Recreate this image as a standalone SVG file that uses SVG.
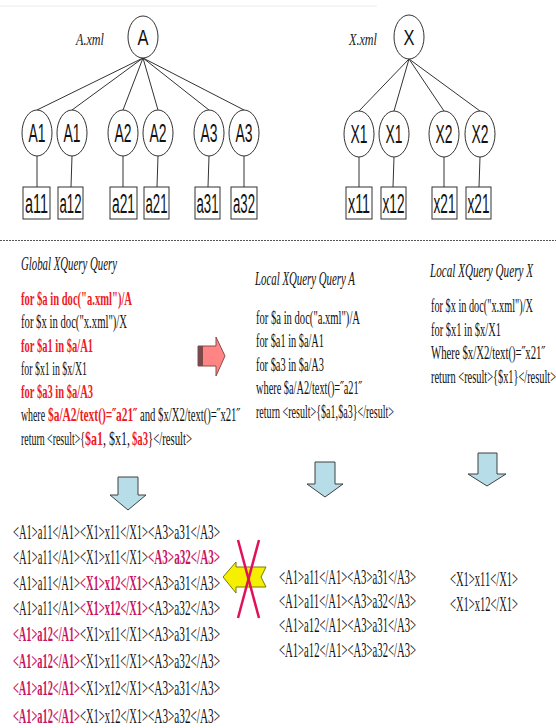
<svg xmlns="http://www.w3.org/2000/svg" width="556" height="728" viewBox="0 0 556 728">
<style>
.bg{fill:#fff}
.nd{fill:#fff;stroke:#333;stroke-width:1}
.lf{fill:#fff;stroke:#333;stroke-width:1}
.ed{stroke:#333;stroke-width:1;fill:none}
.nl{font-family:"Liberation Sans",Arial,sans-serif;font-size:25px;fill:#111;text-anchor:middle}
.rl{font-family:"Liberation Sans",Arial,sans-serif;font-size:22px;fill:#111;text-anchor:middle}
.ll{font-family:"Liberation Sans",Arial,sans-serif;font-size:27px;fill:#111;text-anchor:middle}
.doc{font-family:"Liberation Serif","Times New Roman",serif;font-style:italic;font-size:17px;fill:#222}
.ttl{font-family:"Liberation Serif","Times New Roman",serif;font-style:italic;font-size:19px;fill:#111}
.q{font-family:"Liberation Serif","Times New Roman",serif;font-size:19px;fill:#111}
.qr{font-family:"Liberation Serif","Times New Roman",serif;font-size:19px;fill:#ee1c25;font-weight:bold}
.r{font-family:"Liberation Serif","Times New Roman",serif;font-size:22px;fill:#111}
.rm{font-family:"Liberation Serif","Times New Roman",serif;font-size:22px;fill:#c8145f;font-weight:bold}
.ra{font-family:"Liberation Serif","Times New Roman",serif;font-size:21px;fill:#111}
.da{fill:#b7dde8;stroke:#404040;stroke-width:1}
</style>
<rect class="bg" x="0" y="0" width="556" height="728"/>
<line x1="0" y1="6" x2="377" y2="6" stroke="#ececec" stroke-width="1"/>

<g id="connectors">
  <line class="ed" x1="143" y1="58" x2="37" y2="110"/>
  <line class="ed" x1="143" y1="58" x2="72" y2="110"/>
  <line class="ed" x1="143" y1="58" x2="123" y2="110"/>
  <line class="ed" x1="143" y1="58" x2="158" y2="110"/>
  <line class="ed" x1="143" y1="58" x2="209" y2="110"/>
  <line class="ed" x1="143" y1="58" x2="244" y2="110"/>
  <line class="ed" x1="37" y1="156" x2="37" y2="187"/>
  <line class="ed" x1="72" y1="156" x2="71" y2="187"/>
  <line class="ed" x1="123" y1="156" x2="123" y2="187"/>
  <line class="ed" x1="158" y1="156" x2="157" y2="187"/>
  <line class="ed" x1="209" y1="156" x2="208" y2="187"/>
  <line class="ed" x1="244" y1="156" x2="244" y2="187"/>
  <line class="ed" x1="409" y1="59" x2="359" y2="111"/>
  <line class="ed" x1="409" y1="59" x2="394" y2="111"/>
  <line class="ed" x1="409" y1="59" x2="444" y2="111"/>
  <line class="ed" x1="409" y1="59" x2="480" y2="111"/>
  <line class="ed" x1="359" y1="157" x2="359" y2="187"/>
  <line class="ed" x1="394" y1="157" x2="393" y2="187"/>
  <line class="ed" x1="444" y1="157" x2="444" y2="187"/>
  <line class="ed" x1="480" y1="157" x2="479" y2="187"/>
</g>

<text class="doc" x="76" y="45" textLength="28" lengthAdjust="spacingAndGlyphs">A.xml</text>
<text class="doc" x="349" y="45" textLength="28" lengthAdjust="spacingAndGlyphs">X.xml</text>

<g id="nA"><ellipse class="nd" cx="143" cy="37" rx="15" ry="21"/><text class="rl" x="143" y="45" textLength="11" lengthAdjust="spacingAndGlyphs">A</text></g>
<g id="nA1a"><ellipse class="nd" cx="37" cy="133" rx="15" ry="23"/><text class="nl" x="37" y="142" textLength="17" lengthAdjust="spacingAndGlyphs">A1</text></g>
<g id="nA1b"><ellipse class="nd" cx="72" cy="133" rx="15" ry="23"/><text class="nl" x="72" y="142" textLength="17" lengthAdjust="spacingAndGlyphs">A1</text></g>
<g id="nA2a"><ellipse class="nd" cx="123" cy="133" rx="15" ry="23"/><text class="nl" x="123" y="142" textLength="17" lengthAdjust="spacingAndGlyphs">A2</text></g>
<g id="nA2b"><ellipse class="nd" cx="158" cy="133" rx="15" ry="23"/><text class="nl" x="158" y="142" textLength="17" lengthAdjust="spacingAndGlyphs">A2</text></g>
<g id="nA3a"><ellipse class="nd" cx="209" cy="133" rx="15" ry="23"/><text class="nl" x="209" y="142" textLength="17" lengthAdjust="spacingAndGlyphs">A3</text></g>
<g id="nA3b"><ellipse class="nd" cx="244" cy="133" rx="15" ry="23"/><text class="nl" x="244" y="142" textLength="17" lengthAdjust="spacingAndGlyphs">A3</text></g>

<g id="la11"><rect class="lf" x="23" y="187" width="27" height="32"/><text class="ll" x="36.5" y="213" textLength="23" lengthAdjust="spacingAndGlyphs">a11</text></g>
<g id="la12"><rect class="lf" x="58" y="187" width="25" height="32"/><text class="ll" x="70.5" y="213" textLength="22" lengthAdjust="spacingAndGlyphs">a12</text></g>
<g id="la21a"><rect class="lf" x="110" y="187" width="27" height="32"/><text class="ll" x="123.5" y="213" textLength="23" lengthAdjust="spacingAndGlyphs">a21</text></g>
<g id="la21b"><rect class="lf" x="144" y="187" width="25" height="32"/><text class="ll" x="156.5" y="213" textLength="22" lengthAdjust="spacingAndGlyphs">a21</text></g>
<g id="la31"><rect class="lf" x="195" y="187" width="25" height="32"/><text class="ll" x="207.5" y="213" textLength="22" lengthAdjust="spacingAndGlyphs">a31</text></g>
<g id="la32"><rect class="lf" x="231" y="187" width="26" height="32"/><text class="ll" x="244" y="213" textLength="22" lengthAdjust="spacingAndGlyphs">a32</text></g>

<g id="nX"><ellipse class="nd" cx="409" cy="37" rx="15" ry="22"/><text class="rl" x="409" y="45" textLength="11" lengthAdjust="spacingAndGlyphs">X</text></g>
<g id="nX1a"><ellipse class="nd" cx="359" cy="134" rx="15" ry="23"/><text class="nl" x="359" y="143" textLength="17" lengthAdjust="spacingAndGlyphs">X1</text></g>
<g id="nX1b"><ellipse class="nd" cx="394" cy="134" rx="15" ry="23"/><text class="nl" x="394" y="143" textLength="17" lengthAdjust="spacingAndGlyphs">X1</text></g>
<g id="nX2a"><ellipse class="nd" cx="444" cy="134" rx="15" ry="23"/><text class="nl" x="444" y="143" textLength="17" lengthAdjust="spacingAndGlyphs">X2</text></g>
<g id="nX2b"><ellipse class="nd" cx="480" cy="134" rx="15" ry="23"/><text class="nl" x="480" y="143" textLength="17" lengthAdjust="spacingAndGlyphs">X2</text></g>

<g id="lx11"><rect class="lf" x="346" y="187" width="26" height="32"/><text class="ll" x="359" y="213" textLength="22" lengthAdjust="spacingAndGlyphs">x11</text></g>
<g id="lx12"><rect class="lf" x="381" y="187" width="25" height="32"/><text class="ll" x="393.5" y="213" textLength="22" lengthAdjust="spacingAndGlyphs">x12</text></g>
<g id="lx21a"><rect class="lf" x="432" y="187" width="25" height="32"/><text class="ll" x="444.5" y="213" textLength="22" lengthAdjust="spacingAndGlyphs">x21</text></g>
<g id="lx21b"><rect class="lf" x="466" y="187" width="25" height="32"/><text class="ll" x="478.5" y="213" textLength="22" lengthAdjust="spacingAndGlyphs">x21</text></g>

<line x1="0" y1="240.5" x2="556" y2="240.5" stroke="#555" stroke-width="1" stroke-dasharray="2,1"/>

<g id="globalQuery">
  <text class="ttl" x="21" y="270" textLength="96" lengthAdjust="spacingAndGlyphs">Global XQuery Query</text>
  <text class="qr" x="21" y="305" textLength="111" lengthAdjust="spacingAndGlyphs">for $a in doc("a.xml")/A</text>
  <text class="q" x="21" y="328" textLength="106" lengthAdjust="spacingAndGlyphs">for $x in doc("x.xml")/X</text>
  <text class="qr" x="21" y="352" textLength="72" lengthAdjust="spacingAndGlyphs">for $a1 in $a/A1</text>
  <text class="q" x="21" y="375" textLength="66" lengthAdjust="spacingAndGlyphs">for $x1 in $x/X1</text>
  <text class="qr" x="21" y="398" textLength="72" lengthAdjust="spacingAndGlyphs">for $a3 in $a/A3</text>
  <text class="q" x="21" y="421" textLength="24" lengthAdjust="spacingAndGlyphs">where</text>
  <text class="qr" x="48" y="421" textLength="89" lengthAdjust="spacingAndGlyphs">$a/A2/text()=˝a21˝</text>
  <text class="q" x="140" y="421" textLength="100" lengthAdjust="spacingAndGlyphs">and $x/X2/text()=˝x21˝</text>
  <text class="q" x="21" y="445" textLength="64" lengthAdjust="spacingAndGlyphs">return &lt;result&gt;{</text>
  <text class="qr" x="85" y="445" textLength="18" lengthAdjust="spacingAndGlyphs">$a1</text>
  <text class="q" x="103" y="445" textLength="27" lengthAdjust="spacingAndGlyphs">, $x1,</text>
  <text class="qr" x="132" y="445" textLength="16" lengthAdjust="spacingAndGlyphs">$a3</text>
  <text class="q" x="148" y="445" textLength="44" lengthAdjust="spacingAndGlyphs">}&lt;/result&gt;</text>
</g>

<g id="localQueryA">
  <text class="ttl" x="255" y="285" textLength="100" lengthAdjust="spacingAndGlyphs">Local XQuery Query A</text>
  <text class="q" x="256" y="324" textLength="104" lengthAdjust="spacingAndGlyphs">for $a in doc("a.xml")/A</text>
  <text class="q" x="256" y="347" textLength="68" lengthAdjust="spacingAndGlyphs">for $a1 in $a/A1</text>
  <text class="q" x="256" y="371" textLength="68" lengthAdjust="spacingAndGlyphs">for $a3 in $a/A3</text>
  <text class="q" x="256" y="394" textLength="106" lengthAdjust="spacingAndGlyphs">where $a/A2/text()=˝a21˝</text>
  <text class="q" x="256" y="418" textLength="138" lengthAdjust="spacingAndGlyphs">return &lt;result&gt;{$a1,$a3}&lt;/result&gt;</text>
</g>

<g id="localQueryX">
  <text class="ttl" x="430" y="277" textLength="103" lengthAdjust="spacingAndGlyphs">Local XQuery Query X</text>
  <text class="q" x="431" y="312" textLength="102" lengthAdjust="spacingAndGlyphs">for $x in doc("x.xml")/X</text>
  <text class="q" x="431" y="336" textLength="70" lengthAdjust="spacingAndGlyphs">for $x1 in $x/X1</text>
  <text class="q" x="431" y="359" textLength="114" lengthAdjust="spacingAndGlyphs">Where $x/X2/text()=˝x21˝</text>
  <text class="q" x="431" y="383" textLength="125" lengthAdjust="spacingAndGlyphs">return &lt;result&gt;{$x1}&lt;/result&gt;</text>
</g>

<g id="pinkArrow">
  <polygon points="198,346 216,346 216,337 225,356 216,376 216,366 198,366" fill="#ff8585" stroke="#8b4a4a" stroke-width="1"/>
  <rect x="198" y="346" width="5" height="20" fill="#7a4a4a"/>
</g>

<g id="downArrows">
  <polygon class="da" points="118,477 138,477 138,495 146,495 128,510 110,495 118,495"/>
  <polygon class="da" points="315,462 335,462 335,484 343,484 325,497 307,484 315,484"/>
  <polygon class="da" points="478,453 497,453 497,474 506,474 487,486 468,474 478,474"/>
</g>

<g id="globalResults">
  <text class="r" x="13" y="539" textLength="67" lengthAdjust="spacingAndGlyphs">&lt;A1&gt;a11&lt;/A1&gt;</text>
  <text class="r" x="80" y="539" textLength="68" lengthAdjust="spacingAndGlyphs">&lt;X1&gt;x11&lt;/X1&gt;</text>
  <text class="r" x="148" y="539" textLength="72" lengthAdjust="spacingAndGlyphs">&lt;A3&gt;a31&lt;/A3&gt;</text>

  <text class="r" x="13" y="564" textLength="67" lengthAdjust="spacingAndGlyphs">&lt;A1&gt;a11&lt;/A1&gt;</text>
  <text class="r" x="80" y="564" textLength="68" lengthAdjust="spacingAndGlyphs">&lt;X1&gt;x11&lt;/X1&gt;</text>
  <text class="rm" x="148" y="564" textLength="72" lengthAdjust="spacingAndGlyphs">&lt;A3&gt;a32&lt;/A3&gt;</text>

  <text class="r" x="13" y="590" textLength="67" lengthAdjust="spacingAndGlyphs">&lt;A1&gt;a11&lt;/A1&gt;</text>
  <text class="rm" x="80" y="590" textLength="68" lengthAdjust="spacingAndGlyphs">&lt;X1&gt;x12&lt;/X1&gt;</text>
  <text class="r" x="148" y="590" textLength="72" lengthAdjust="spacingAndGlyphs">&lt;A3&gt;a31&lt;/A3&gt;</text>

  <text class="r" x="13" y="615" textLength="67" lengthAdjust="spacingAndGlyphs">&lt;A1&gt;a11&lt;/A1&gt;</text>
  <text class="rm" x="80" y="615" textLength="68" lengthAdjust="spacingAndGlyphs">&lt;X1&gt;x12&lt;/X1&gt;</text>
  <text class="r" x="148" y="615" textLength="72" lengthAdjust="spacingAndGlyphs">&lt;A3&gt;a32&lt;/A3&gt;</text>

  <text class="rm" x="13" y="641" textLength="67" lengthAdjust="spacingAndGlyphs">&lt;A1&gt;a12&lt;/A1&gt;</text>
  <text class="r" x="80" y="641" textLength="68" lengthAdjust="spacingAndGlyphs">&lt;X1&gt;x11&lt;/X1&gt;</text>
  <text class="r" x="148" y="641" textLength="72" lengthAdjust="spacingAndGlyphs">&lt;A3&gt;a31&lt;/A3&gt;</text>

  <text class="rm" x="13" y="668" textLength="67" lengthAdjust="spacingAndGlyphs">&lt;A1&gt;a12&lt;/A1&gt;</text>
  <text class="r" x="80" y="668" textLength="68" lengthAdjust="spacingAndGlyphs">&lt;X1&gt;x11&lt;/X1&gt;</text>
  <text class="r" x="148" y="668" textLength="72" lengthAdjust="spacingAndGlyphs">&lt;A3&gt;a32&lt;/A3&gt;</text>

  <text class="rm" x="13" y="695" textLength="67" lengthAdjust="spacingAndGlyphs">&lt;A1&gt;a12&lt;/A1&gt;</text>
  <text class="r" x="80" y="695" textLength="68" lengthAdjust="spacingAndGlyphs">&lt;X1&gt;x12&lt;/X1&gt;</text>
  <text class="r" x="148" y="695" textLength="72" lengthAdjust="spacingAndGlyphs">&lt;A3&gt;a31&lt;/A3&gt;</text>

  <text class="rm" x="13" y="723" textLength="67" lengthAdjust="spacingAndGlyphs">&lt;A1&gt;a12&lt;/A1&gt;</text>
  <text class="r" x="80" y="723" textLength="68" lengthAdjust="spacingAndGlyphs">&lt;X1&gt;x12&lt;/X1&gt;</text>
  <text class="r" x="148" y="723" textLength="72" lengthAdjust="spacingAndGlyphs">&lt;A3&gt;a32&lt;/A3&gt;</text>
</g>

<g id="yellowArrow">
  <polygon points="223,577 236,562 236,567 266,567 261,577 266,587 236,587 236,593" fill="#f5f000" stroke="#7a7a00" stroke-width="1"/>
  <line x1="238" y1="540" x2="259" y2="618" stroke="#e0105a" stroke-width="2.5"/>
  <line x1="259" y1="540" x2="238" y2="618" stroke="#e0105a" stroke-width="2.5"/>
</g>

<g id="localResultsA">
  <text class="ra" x="279" y="584" textLength="137" lengthAdjust="spacingAndGlyphs">&lt;A1&gt;a11&lt;/A1&gt;&lt;A3&gt;a31&lt;/A3&gt;</text>
  <text class="ra" x="279" y="608" textLength="137" lengthAdjust="spacingAndGlyphs">&lt;A1&gt;a11&lt;/A1&gt;&lt;A3&gt;a32&lt;/A3&gt;</text>
  <text class="ra" x="279" y="632" textLength="137" lengthAdjust="spacingAndGlyphs">&lt;A1&gt;a12&lt;/A1&gt;&lt;A3&gt;a31&lt;/A3&gt;</text>
  <text class="ra" x="279" y="657" textLength="137" lengthAdjust="spacingAndGlyphs">&lt;A1&gt;a12&lt;/A1&gt;&lt;A3&gt;a32&lt;/A3&gt;</text>
</g>

<g id="localResultsX">
  <text class="ra" x="450" y="586" textLength="68" lengthAdjust="spacingAndGlyphs">&lt;X1&gt;x11&lt;/X1&gt;</text>
  <text class="ra" x="450" y="611" textLength="68" lengthAdjust="spacingAndGlyphs">&lt;X1&gt;x12&lt;/X1&gt;</text>
</g>
</svg>
